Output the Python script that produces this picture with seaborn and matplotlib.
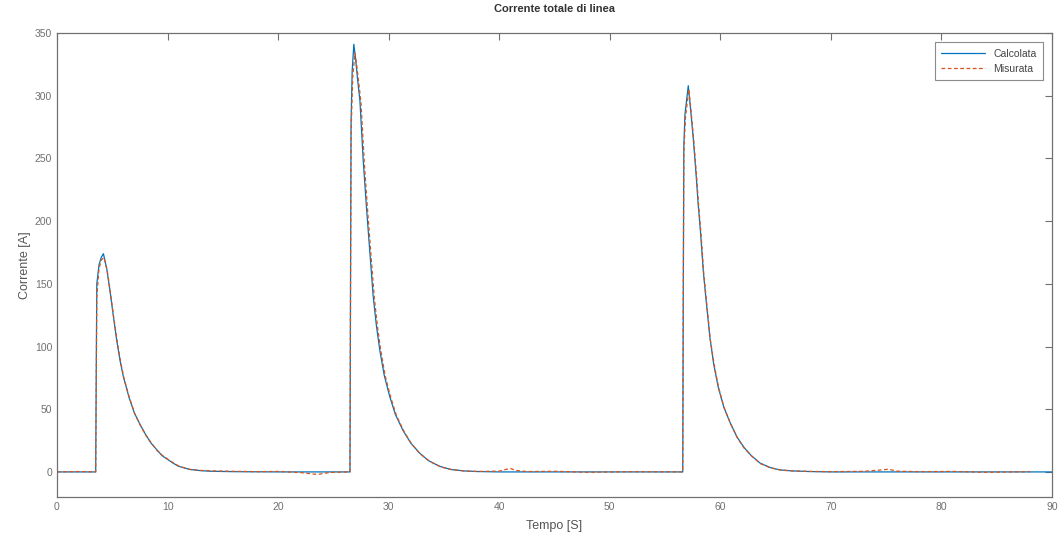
import matplotlib
matplotlib.use('Agg')
import matplotlib.pyplot as plt
import seaborn as sns
import pandas as pd

# Calcolata (calculated line current)
calc_t = [0, 3.5, 3.55, 3.6, 3.8, 4.0, 4.2, 4.5, 4.8, 5.1, 5.4, 5.7, 6.0, 6.5, 7.0,
          7.5, 8.0, 8.5, 9.0, 9.5, 10.0, 10.5, 11.0, 12.0, 13.0, 14.0, 16.0, 20.0,
          26.5, 26.55, 26.6, 26.7, 26.85, 27.0, 27.2, 27.4, 27.7, 28.0, 28.3, 28.6,
          28.9, 29.2, 29.6, 30.1, 30.6, 31.3, 32.0, 32.8, 33.6, 34.6, 35.6, 36.8,
          38.0, 40.0, 50.0, 56.6, 56.65, 56.7, 56.8, 57.1, 57.3, 57.55, 57.8, 58.0,
          58.2, 58.46, 58.7, 59.06, 59.4, 59.8, 60.3, 60.9, 61.5, 62.1, 62.8, 63.6,
          64.5, 65.4, 66.5, 68.1, 70.0, 80.0, 90.0]
calc_i = [0, 0, 80, 150, 165, 171, 174, 162, 144, 124, 105, 89, 76, 60, 47,
          38, 30, 23, 18, 13, 10, 7, 4.5, 2, 1, 0.5, 0.2, 0,
          0, 150, 280, 320, 341, 330, 312, 296, 248, 210, 175, 140,
          116, 97, 77, 60, 46, 33, 23, 15, 9, 4.5, 2, 0.8,
          0.3, 0, 0, 0, 150, 260, 285, 308, 290, 266, 238, 213,
          192, 160, 138, 107, 86, 68, 52, 39, 28, 20, 13, 7,
          3.5, 1.6, 0.8, 0.3, 0, 0, 0]

# Misurata (measured line current)
meas_t = [0, 2.0, 3.5, 3.55, 3.6, 3.8, 4.0, 4.25, 4.55, 4.85, 5.15, 5.45, 5.75, 6.05,
          6.55, 7.05, 7.55, 8.05, 8.55, 9.05, 9.55, 10.05, 10.55, 11.05, 12.0, 13.0,
          14.0, 16.0, 18.0, 20.0, 22.0, 23.0, 23.6, 24.2, 25.0, 26.5, 26.55, 26.6,
          26.75, 26.95, 27.1, 27.3, 27.5, 27.8, 28.1, 28.4, 28.7, 29.0, 29.3, 29.7,
          30.2, 30.7, 31.4, 32.1, 32.9, 33.7, 34.7, 35.7, 36.9, 38.0, 40.0, 40.6,
          41.0, 41.5, 42.5, 45.0, 48.0, 52.0, 56.6, 56.65, 56.7, 56.85, 57.15, 57.35,
          57.6, 57.85, 58.05, 58.25, 58.5, 58.75, 59.1, 59.45, 59.85, 60.35, 60.95,
          61.55, 62.15, 62.85, 63.65, 64.55, 65.45, 66.5, 68.1, 70.0, 73.0, 74.5, 75.2,
          76.0, 78.0, 81.0, 84.0, 88.0]
meas_i = [0, 0.3, 0, 70, 140, 162, 169, 171, 160, 142, 122, 104, 88, 75,
          59, 46, 37, 29, 23, 17, 13, 10, 7, 4.5, 2, 1.2,
          0.8, 0.5, 0.2, 0.4, -0.5, -1.5, -2.0, -1.0, -0.3, 0, 140, 270,
          315, 334, 325, 310, 294, 246, 208, 173, 139, 115, 96, 76,
          59, 45, 32, 22, 14, 8.5, 4, 1.8, 0.7, 0.4, 0.6, 2.0,
          2.8, 1.2, 0.3, 0.5, -0.3, 0.2, 0, 140, 255, 283, 305, 288,
          264, 236, 211, 190, 158, 136, 105, 85, 67, 51, 38,
          27, 19, 12.5, 6.5, 3.2, 1.5, 0.8, 0.4, 0.2, 0.5, 1.5, 2.2,
          0.6, 0.2, 0.4, -0.3, 0.2]

x_ticks = list(range(0, 100, 10))
y_ticks = list(range(0, 400, 50))

calc_df = pd.DataFrame({'t': calc_t, 'i': calc_i})
meas_df = pd.DataFrame({'t': meas_t, 'i': meas_i})

sns.set_style('white')
plt.rcParams['font.family'] = ['Liberation Sans', 'DejaVu Sans']
axis_grey = '#707070'

fig = plt.figure(figsize=(10.61, 5.35), dpi=100)
ax = fig.add_axes([57 / 1061, 1 - 497 / 535, 995 / 1061, 464 / 535])

sns.lineplot(data=calc_df, x='t', y='i', ax=ax, color='#0072BD', linewidth=0.9,
             sort=False, estimator=None, label='Calcolata')
sns.lineplot(data=meas_df, x='t', y='i', ax=ax, color='#D95319', linewidth=0.9,
             linestyle=(0, (3, 2)), sort=False, estimator=None, label='Misurata')

ax.set_xlim(0, 90)
ax.set_ylim(-20, 350)
ax.set_xticks(x_ticks)
ax.set_yticks(y_ticks)
ax.tick_params(direction='in', length=5, width=0.8, colors=axis_grey,
               labelsize=7.5, top=True, right=True)
for s in ax.spines.values():
    s.set_color(axis_grey)
    s.set_linewidth(0.9)

ax.set_title('Corrente totale di linea', fontsize=8, fontweight='bold', color='#333333', pad=15)
ax.set_xlabel('Tempo [S]', fontsize=9, color='#555555', labelpad=6)
ax.set_ylabel('Corrente [A]', fontsize=9, color='#555555', labelpad=3)

leg = ax.legend(loc='upper right', fontsize=7.5, frameon=True, fancybox=False,
                borderaxespad=0.9, handlelength=4.2, borderpad=0.6, labelcolor='#444444')
leg.get_frame().set_edgecolor(axis_grey)
leg.get_frame().set_linewidth(0.8)

fig.savefig('out.png', dpi=100)
